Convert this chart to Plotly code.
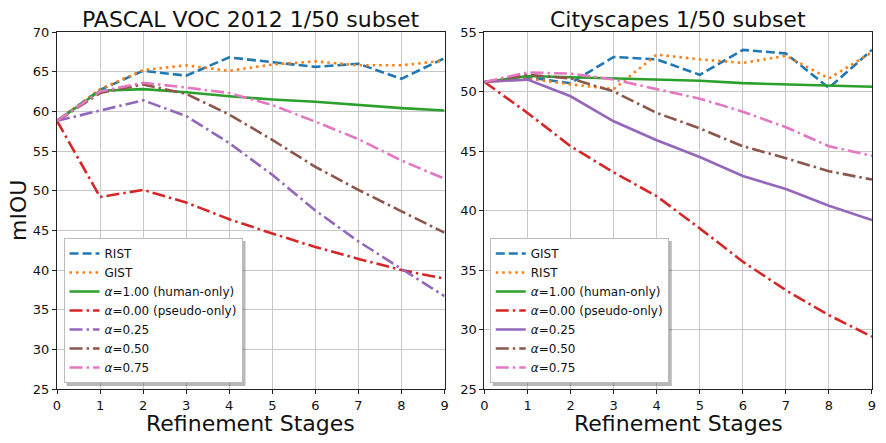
import plotly.graph_objects as go
from plotly.subplots import make_subplots

stages = list(range(10))

# PASCAL VOC 2012 1/50 subset
voc_rist = [58.8, 62.7, 65.1, 64.5, 66.8, 66.2, 65.6, 66.0, 64.1, 66.7]
voc_gist = [58.8, 62.8, 65.2, 65.8, 65.1, 65.9, 66.3, 65.8, 65.8, 66.4]
voc_a100 = [58.8, 62.6, 62.8, 62.4, 61.9, 61.5, 61.2, 60.8, 60.4, 60.1]
voc_a000 = [58.8, 49.2, 50.1, 48.5, 46.4, 44.6, 42.9, 41.4, 40.0, 38.9]
voc_a025 = [58.8, 60.1, 61.4, 59.4, 56.0, 52.0, 47.5, 43.6, 40.1, 36.7]
voc_a050 = [58.8, 62.3, 63.4, 62.2, 59.6, 56.4, 53.0, 50.1, 47.4, 44.7]
voc_a075 = [58.8, 62.5, 63.6, 63.0, 62.3, 60.8, 58.7, 56.5, 53.8, 51.5]

# Cityscapes 1/50 subset
cs_gist = [50.8, 51.2, 50.7, 52.9, 52.7, 51.4, 53.5, 53.2, 50.3, 53.5]
cs_rist = [50.8, 51.1, 50.6, 50.2, 53.1, 52.7, 52.4, 53.0, 51.1, 53.3]
cs_a100 = [50.8, 51.3, 51.2, 51.1, 51.0, 50.9, 50.7, 50.6, 50.5, 50.4]
cs_a000 = [50.8, 48.2, 45.4, 43.2, 41.2, 38.5, 35.7, 33.3, 31.2, 29.4]
cs_a025 = [50.8, 51.0, 49.6, 47.5, 45.9, 44.5, 42.9, 41.8, 40.4, 39.2]
cs_a050 = [50.8, 51.4, 51.1, 50.0, 48.2, 46.9, 45.4, 44.4, 43.3, 42.6]
cs_a075 = [50.8, 51.6, 51.5, 51.0, 50.2, 49.4, 48.3, 47.0, 45.4, 44.6]

titles = ["PASCAL VOC 2012 1/50 subset", "Cityscapes 1/50 subset"]

BLUE, ORANGE, GREEN, RED = "#1f77b4", "#ff7f0e", "#2ca02c", "#d62728"
PURPLE, BROWN, PINK = "#9467bd", "#8c564b", "#e377c2"
DASH = "9px,4px"
DOT = "2.5px,4px"
DASHDOT = "13px,4px,2.5px,4px"

fig = make_subplots(rows=1, cols=2, horizontal_spacing=0.049)

voc = [
    ("RIST", voc_rist, BLUE, DASH),
    ("GIST", voc_gist, ORANGE, DOT),
    ("<i>α</i>=1.00 (human-only)", voc_a100, GREEN, "solid"),
    ("<i>α</i>=0.00 (pseudo-only)", voc_a000, RED, DASHDOT),
    ("<i>α</i>=0.25", voc_a025, PURPLE, DASHDOT),
    ("<i>α</i>=0.50", voc_a050, BROWN, DASHDOT),
    ("<i>α</i>=0.75", voc_a075, PINK, DASHDOT),
]
cs = [
    ("GIST", cs_gist, BLUE, DASH),
    ("RIST", cs_rist, ORANGE, DOT),
    ("<i>α</i>=1.00 (human-only)", cs_a100, GREEN, "solid"),
    ("<i>α</i>=0.00 (pseudo-only)", cs_a000, RED, DASHDOT),
    ("<i>α</i>=0.25", cs_a025, PURPLE, "solid"),
    ("<i>α</i>=0.50", cs_a050, BROWN, DASHDOT),
    ("<i>α</i>=0.75", cs_a075, PINK, DASHDOT),
]

for col, (series, leg) in enumerate([(voc, "legend"), (cs, "legend2")], start=1):
    for name, vals, color, dash in series:
        fig.add_trace(go.Scatter(
            x=stages, y=vals, mode="lines", name=name, legend=leg,
            line=dict(color=color, width=2.6, dash=dash),
        ), row=1, col=col)

axis_style = dict(
    showgrid=True, gridcolor="#c8c8c8", gridwidth=1,
    showline=True, linecolor="#222", linewidth=1.3, mirror=True,
    ticks="outside", ticklen=4, tickcolor="#222",
    tickfont=dict(size=13, color="#111"), zeroline=False, automargin=False,
)
fig.update_xaxes(range=[0, 9], dtick=1, **axis_style)
fig.update_yaxes(**axis_style)
fig.update_yaxes(range=[25, 70], dtick=5, row=1, col=1)
fig.update_yaxes(range=[25, 55], dtick=5, row=1, col=2)

legend_style = dict(
    xanchor="left", yanchor="bottom", bgcolor="white",
    bordercolor="#bbbbbb", borderwidth=1, font=dict(size=12, color="#111"),
    tracegroupgap=0, itemwidth=30,
)
fig.update_layout(
    legend=dict(x=0.008, y=0.017, xref="paper", yref="paper", **legend_style),
    legend2=dict(x=0.531, y=0.017, xref="paper", yref="paper", **legend_style),
)

# soft drop shadow behind each legend box (pixel-sized, anchored at the legend corner)
for lx in (0.008, 0.531):
    fig.add_shape(
        type="rect", xref="paper", yref="paper", layer="above",
        xsizemode="pixel", ysizemode="pixel", xanchor=lx, yanchor=0.017,
        x0=3, x1=182, y0=-3, y1=142,
        fillcolor="rgba(0,0,0,0.28)", line_width=0,
    )

for i, t in enumerate(titles):
    xd = "x domain" if i == 0 else "x2 domain"
    fig.add_annotation(
        text=t, xref=xd, yref="paper", x=0.5, y=1.0, yanchor="bottom",
        showarrow=False, yshift=-2, font=dict(size=22, color="#111"),
    )
    fig.add_annotation(
        text="Refinement Stages", xref=xd, yref="paper", x=0.5, y=0.0,
        yanchor="top", showarrow=False, yshift=-21, borderpad=0,
        font=dict(size=22, color="#111"),
    )

fig.add_annotation(
    text="mIOU", xref="paper", yref="paper", x=0, y=0.5, xanchor="right",
    xshift=-25, borderpad=0, textangle=-90, showarrow=False,
    font=dict(size=22, color="#111"),
)

# the page body has an 8px margin, so the plot area is offset to match
fig.update_layout(
    width=886, height=443,
    margin=dict(l=49, r=22, t=24, b=62),
    plot_bgcolor="white", paper_bgcolor="white",
    font=dict(family="DejaVu Sans"),
    showlegend=True,
)

fig.write_html("out.html")
